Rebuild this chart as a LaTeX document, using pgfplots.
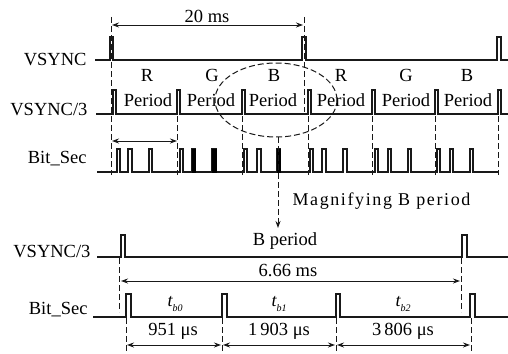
\documentclass[border=0pt]{standalone}
\usepackage{fontspec}
\setmainfont{Liberation Serif}
\newfontfamily\magfont[LetterSpace=9]{Liberation Serif}
\usepackage{pgfplots}
\pgfplotsset{compat=1.18}
\usetikzlibrary{arrows.meta}
\begin{document}
\begin{tikzpicture}[font=\fontsize{18.5}{20}\selectfont,
  sig/.style={draw=black!90, line width=1.3pt, mark=none},
  dsh/.style={draw=black!90, line width=1pt, dash pattern=on 6pt off 3pt},
  arr/.style={draw=black!90, line width=0.9pt, {Stealth[length=7pt,width=5pt]}-{Stealth[length=7pt,width=5pt]}},
  tl/.style={inner sep=0pt}]
\begin{axis}[name=ax, hide axis, scale only axis, width=508pt, height=353pt,
  xmin=0, xmax=508, ymin=0, ymax=353, y dir=reverse, clip=false]
% ---- VSYNC (top)
\addplot[sig] coordinates {(95,60)(110,60)(110,37)(113,37)(113,60)(302,60)(302,37)(306,37)(306,60)(497,60)(497,37)(501,37)(501,60)(508,60)};
% ---- VSYNC/3 (top)
\addplot[sig] coordinates {(96,114)(113,114)(113,90)(116,90)(116,114)(177,114)(177,90)(180,90)(180,114)(242,114)(242,90)(245,90)(245,114)(308,114)(308,90)(311,90)(311,114)(372,114)(372,90)(375,90)(375,114)(435,114)(435,90)(438,90)(438,114)(498,114)(498,90)(501,90)(501,114)(508,114)};
% ---- Bit_Sec (top)
\addplot[sig] coordinates {(97,172)(117,172)(117,149)(120,149)(120,172)(128,172)(128,149)(132,149)(132,172)(149,172)(149,149)(152,149)(152,172)(180,172)(180,149)(183,149)(183,172)(192,172)(192,149)(195,149)(195,172)(212,172)(212,149)(216,149)(216,172)(244,172)(244,149)(247,149)(247,172)(257,172)(257,149)(261,149)(261,172)(277,172)(277,149)(280,149)(280,172)(310,172)(310,149)(313,149)(313,172)(322,172)(322,149)(326,149)(326,172)(343,172)(343,149)(347,149)(347,172)(375,172)(375,149)(378,149)(378,172)(388,172)(388,149)(391,149)(391,172)(408,172)(408,149)(411,149)(411,172)(437,172)(437,149)(440,149)(440,172)(450,172)(450,149)(453,149)(453,172)(470,172)(470,149)(473,149)(473,172)(498,172)};
\addplot[fill=black, draw=black, mark=none] coordinates {(192,172)(192,149)(195,149)(195,172)} -- cycle;
\addplot[fill=black, draw=black, mark=none] coordinates {(212,172)(212,149)(216,149)(216,172)} -- cycle;
\addplot[fill=black, draw=black, mark=none] coordinates {(277,172)(277,149)(280,149)(280,172)} -- cycle;
% ---- VSYNC/3 (bottom)
\addplot[sig] coordinates {(97,257)(121,257)(121,235)(125,235)(125,257)(462,257)(462,235)(467,235)(467,257)(508,257)};
% ---- Bit_Sec (bottom)
\addplot[sig] coordinates {(93,317)(126,317)(126,294)(131,294)(131,317)(222,317)(222,294)(227,294)(227,317)(336,317)(336,294)(340,294)(340,317)(470,317)(470,294)(475,294)(475,317)(508,317)};

% ---- signal labels
\node[anchor=base east] at (90,65) {VSYNC};
\node[anchor=base east] at (91,115) {VSYNC/3};
\node[anchor=base east] at (90,163) {Bit\_Sec};
\node[anchor=base east] at (94,257) {VSYNC/3};
\node[anchor=base east] at (91,314) {Bit\_Sec};

% ---- top annotations
\draw[dsh] (111,17) -- (111,175);
\draw[dsh] (304,17) -- (304,112);
\draw[dsh] (177,116) -- (177,175);
\draw[dsh] (242,116) -- (242,175);
\draw[dsh] (308,116) -- (308,175);
\draw[dsh] (372,116) -- (372,175);
\draw[dsh] (435,116) -- (435,175);
\draw[dsh] (498,116) -- (498,175);
\draw[arr] (112,25) -- (303,25);
\node at (207,16) {20 ms};
\draw[arr] (112,141) -- (177,141);
\node at (147,75) {R};
\node at (212,75) {G};
\node at (274,75) {B};
\node at (341,75) {R};
\node at (406,75) {G};
\node at (467,75) {B};
\node at (148,100) {Period};
\node at (211,100) {Period};
\node at (273,100) {Period};
\node at (341,100) {Period};
\node at (406,100) {Period};
\node at (468,100) {Period};
\draw[dsh] (276,100) ellipse [x radius=61, y radius=37];
\draw[dsh, -{Stealth[length=7pt,width=5pt]}] (278,137) -- (278,228);
\node[anchor=west] at (289,201) {\magfont\fontsize{18}{20}\selectfont Magnifying B period};

% ---- bottom annotations
\node at (285,241) {B period};
\draw[dsh] (119,258) -- (119,312);
\draw[dsh] (461,258) -- (461,312);
\draw[arr] (121,281) -- (460,281);
\node at (288,271) {6.66 ms};
\draw[dsh] (126,318) -- (126,353);
\draw[dsh] (222,318) -- (222,353);
\draw[dsh] (336,318) -- (336,353);
\draw[dsh] (471,318) -- (471,353);
\draw[arr] (127,345) -- (221,345);
\draw[arr] (223,345) -- (335,345);
\draw[arr] (337,345) -- (470,345);
\node at (173,331) {951 μs};
\node at (279,331) {1\,903 μs};
\node at (403,331) {3\,806 μs};
\node at (175,304) {{\fontsize{18}{20}\selectfont\itshape t}\raisebox{-0.5ex}{\fontsize{10}{12}\selectfont\itshape b0}};
\node at (279,304) {{\fontsize{18}{20}\selectfont\itshape t}\raisebox{-0.5ex}{\fontsize{10}{12}\selectfont\itshape b1}};
\node at (403,304) {{\fontsize{18}{20}\selectfont\itshape t}\raisebox{-0.5ex}{\fontsize{10}{12}\selectfont\itshape b2}};
\end{axis}
\pgfresetboundingbox
\path (ax.south west) rectangle (ax.north east);
\end{tikzpicture}
\end{document}
